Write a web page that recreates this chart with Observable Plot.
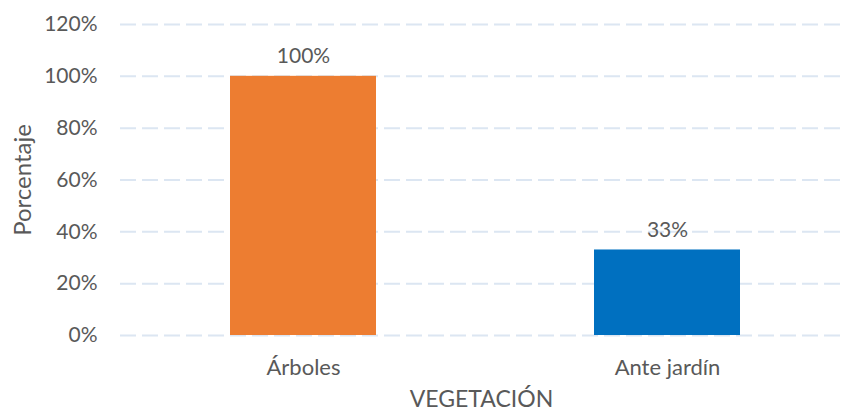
<!DOCTYPE html>
<html>
<head>
<meta charset="utf-8">
<script src="https://cdn.jsdelivr.net/npm/d3@7"></script>
<script src="https://cdn.jsdelivr.net/npm/@observablehq/plot@0.6"></script>
<style>
  html, body { margin: 0; padding: 0; background: #fff; }
  #chart svg { display: block; }
</style>
</head>
<body>
<div id="chart"></div>
<script>
const categories = ["Árboles", "Ante jardín"];
const values = [100, 33];
const colors = ["#ED7D31", "#0070C0"];
const yTicks = [0, 20, 40, 60, 80, 100, 120];
const xTitle = "VEGETACIÓN";
const yTitle = "Porcentaje";

const data = categories.map((c, i) => ({cat: c, value: values[i], color: colors[i]}));
const textColor = "#595959";

const chart = Plot.plot({
  width: 842,
  height: 413,
  marginLeft: 120,
  marginRight: 0,
  marginTop: 24,
  marginBottom: 78,
  style: {fontFamily: "Lato, sans-serif", fontSize: "21px", color: textColor, background: "#fff"},
  x: {domain: categories, paddingInner: 0.6, paddingOuter: 0.29, align: 0.52, label: null},
  y: {domain: [0, 120], label: null},
  marks: [
    Plot.ruleY(yTicks, {stroke: "#dce6f2", strokeWidth: 2, strokeDasharray: "16,6"}),
    Plot.barY(data, {x: "cat", y: "value", fill: "color"}),
    Plot.text(data, {x: "cat", y: "value", text: d => d.value + "%", lineAnchor: "bottom", dy: -13, fill: textColor, fontSize: 21}),
    Plot.axisY(yTicks, {tickSize: 0, tickPadding: 23, tickFormat: d => d + "%", label: null, fill: textColor, fontSize: 21}),
    Plot.axisX({tickSize: 0, tickPadding: 24, label: null, fill: textColor, fontSize: 22}),
    Plot.text([yTitle], {frameAnchor: "left", textAnchor: "middle", lineAnchor: "middle", rotate: -90, dx: -97, fill: textColor, fontSize: 24}),
    Plot.text([xTitle], {frameAnchor: "bottom", textAnchor: "middle", lineAnchor: "middle", dy: 64, fill: textColor, fontSize: 23})
  ]
});
document.getElementById("chart").appendChild(chart);
</script>
</body>
</html>
